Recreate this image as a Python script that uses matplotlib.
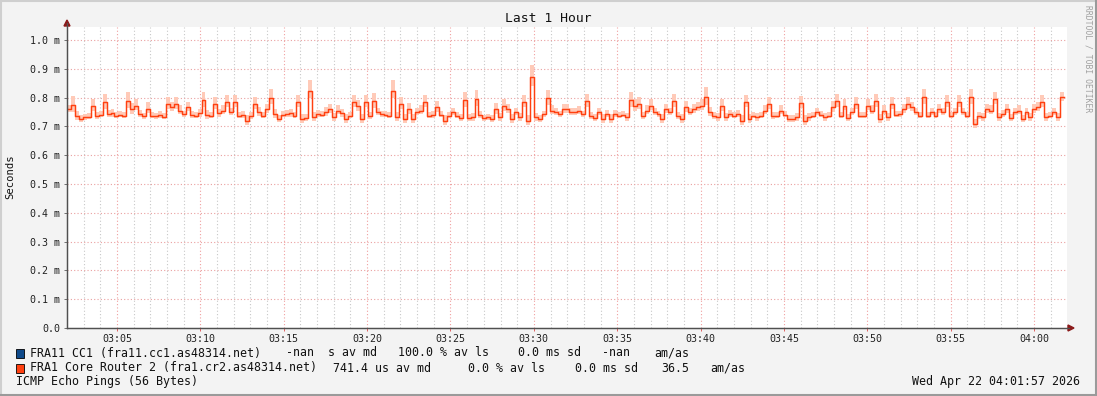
import numpy as np
import matplotlib
matplotlib.use("Agg")
import matplotlib.pyplot as plt
from matplotlib.patches import Rectangle
from matplotlib.lines import Line2D

W, H = 1097, 396

# ---------------- data ----------------
title = "Last 1 Hour"
y_label = "Seconds"
start_min = 2.0          # minutes after 03:00
step_min = 59.8 / 252    # minutes per sample

# median RTT in ms
median_ms = [
    0.760, 0.774, 0.737, 0.726, 0.731, 0.733, 0.772, 0.737, 0.740,
    0.784, 0.743, 0.745, 0.737, 0.740, 0.737, 0.788, 0.760, 0.772,
    0.743, 0.735, 0.762, 0.737, 0.735, 0.740, 0.733, 0.778, 0.766,
    0.778, 0.755, 0.743, 0.766, 0.740, 0.737, 0.745, 0.790, 0.740,
    0.737, 0.778, 0.745, 0.755, 0.784, 0.749, 0.786, 0.737, 0.740,
    0.720, 0.735, 0.778, 0.749, 0.737, 0.760, 0.800, 0.743, 0.726,
    0.740, 0.743, 0.745, 0.737, 0.784, 0.726, 0.728, 0.824, 0.731,
    0.743, 0.740, 0.750, 0.760, 0.731, 0.755, 0.745, 0.726, 0.737,
    0.784, 0.770, 0.726, 0.784, 0.737, 0.787, 0.749, 0.743, 0.740,
    0.737, 0.824, 0.731, 0.778, 0.726, 0.760, 0.726, 0.749, 0.755,
    0.784, 0.737, 0.740, 0.766, 0.740, 0.720, 0.737, 0.749, 0.737,
    0.728, 0.790, 0.729, 0.731, 0.795, 0.740, 0.729, 0.731, 0.726,
    0.760, 0.731, 0.772, 0.760, 0.726, 0.749, 0.731, 0.784, 0.720,
    0.871, 0.731, 0.726, 0.743, 0.798, 0.755, 0.749, 0.743, 0.760,
    0.760, 0.749, 0.749, 0.755, 0.743, 0.787, 0.737, 0.729, 0.751,
    0.726, 0.743, 0.726, 0.743, 0.737, 0.740, 0.731, 0.790, 0.772,
    0.778, 0.737, 0.755, 0.772, 0.749, 0.743, 0.726, 0.760, 0.749,
    0.787, 0.737, 0.726, 0.766, 0.749, 0.760, 0.766, 0.772, 0.801,
    0.749, 0.737, 0.731, 0.772, 0.731, 0.743, 0.737, 0.743, 0.720,
    0.784, 0.726, 0.737, 0.731, 0.737, 0.755, 0.778, 0.737, 0.737,
    0.755, 0.740, 0.726, 0.726, 0.731, 0.781, 0.720, 0.731, 0.737,
    0.749, 0.740, 0.731, 0.737, 0.766, 0.787, 0.737, 0.772, 0.729,
    0.749, 0.778, 0.737, 0.737, 0.772, 0.755, 0.787, 0.726, 0.755,
    0.731, 0.778, 0.740, 0.743, 0.760, 0.778, 0.766, 0.749, 0.737,
    0.801, 0.737, 0.749, 0.737, 0.760, 0.749, 0.784, 0.737, 0.749,
    0.784, 0.749, 0.737, 0.801, 0.708, 0.737, 0.731, 0.760, 0.755,
    0.795, 0.731, 0.743, 0.760, 0.729, 0.749, 0.755, 0.726, 0.749,
    0.731, 0.760, 0.766, 0.784, 0.731, 0.737, 0.749, 0.731, 0.801,
]

# smoke spread (microseconds) around the median
smoke_us = [
    12, 25, 15, 12, 10, 10, 20, 12, 10,
    25, 12, 12, 10, 10, 10, 25, 18, 18,
    12, 10, 18, 10, 10, 12, 10, 20, 15,
    20, 15, 10, 15, 12, 10, 12, 25, 15,
    10, 20, 12, 15, 20, 12, 20, 10, 12,
    15, 12, 20, 15, 10, 15, 25, 15, 12,
    10, 12, 12, 10, 20, 15, 12, 30, 15,
    12, 10, 15, 15, 12, 15, 12, 15, 10,
    20, 18, 15, 20, 12, 25, 12, 10, 10,
    10, 30, 15, 20, 15, 18, 15, 12, 15,
    20, 10, 12, 18, 10, 15, 10, 12, 10,
    12, 25, 12, 12, 25, 12, 10, 10, 12,
    18, 12, 20, 15, 15, 12, 12, 20, 15,
    35, 12, 12, 10, 25, 15, 12, 10, 15,
    15, 12, 12, 12, 10, 20, 12, 12, 12,
    15, 12, 15, 12, 10, 10, 12, 25, 20,
    20, 12, 15, 18, 12, 10, 15, 15, 12,
    20, 12, 15, 18, 12, 15, 15, 18, 30,
    15, 12, 12, 20, 12, 12, 10, 12, 15,
    20, 15, 10, 12, 10, 15, 20, 12, 10,
    15, 10, 12, 12, 12, 20, 15, 12, 10,
    12, 10, 12, 10, 18, 20, 10, 18, 12,
    12, 20, 10, 10, 18, 15, 20, 15, 15,
    12, 20, 10, 10, 15, 20, 15, 12, 10,
    25, 10, 12, 10, 15, 12, 20, 10, 12,
    20, 12, 10, 25, 15, 12, 12, 15, 15,
    20, 12, 12, 15, 12, 12, 15, 12, 12,
    12, 15, 15, 20, 12, 10, 12, 12, 15,
]

y_ticks = [0.0, 0.1, 0.2, 0.3, 0.4, 0.5, 0.6, 0.7, 0.8, 0.9, 1.0]
y_tick_labels = ["0.0", "0.1 m", "0.2 m", "0.3 m", "0.4 m", "0.5 m",
                 "0.6 m", "0.7 m", "0.8 m", "0.9 m", "1.0 m"]
x_ticks = [5, 10, 15, 20, 25, 30, 35, 40, 45, 50, 55, 60]
x_tick_labels = ["03:05", "03:10", "03:15", "03:20", "03:25", "03:30",
                 "03:35", "03:40", "03:45", "03:50", "03:55", "04:00"]

legend1_name = "FRA11 CC1 (fra11.cc1.as48314.net)"
legend1_parts = ["-nan  s av md", "100.0 % av ls", "0.0 ms sd", "-nan", "am/as"]
legend2_name = "FRA1 Core Router 2 (fra1.cr2.as48314.net)"
legend2_parts = ["741.4 us av md", "0.0 % av ls", "0.0 ms sd", "36.5", "am/as"]
footer_left = "ICMP Echo Pings (56 Bytes)"
footer_right = "Wed Apr 22 04:01:57 2026"
watermark = "RRDTOOL / TOBI OETIKER"

# ---------------- style ----------------
BG = "#f3f3f3"
LINE = "#ff4010"
SMOKE = "#ffcab8"
BLUE = "#0f4a8a"
MONO = "DejaVu Sans Mono"

def fx(x):
    return x / W

def fy(y):
    return 1 - y / H

fig = plt.figure(figsize=(W / 100, H / 100), dpi=100, facecolor=BG)

# plot area: x 67..1067, y 27..328
L, R, T, B = 67, 1067, 27, 328
ax = fig.add_axes([fx(L), fy(B), (R - L) / W, (B - T) / H])
ax.set_facecolor("white")

px_per_min = 83.37 / 5
xmin = 5 - (117 - L) / px_per_min
xmax = xmin + (R - L) / px_per_min
px_per_unit = 288.0
ymax = (B - T) / px_per_unit
ax.set_xlim(xmin, xmax)
ax.set_ylim(0, ymax)

med = np.array(median_ms)
spr = np.array(smoke_us) / 1000.0
t = start_min + step_min * np.arange(len(med))
t_edges = np.append(t, t[-1] + step_min)
med_e = np.append(med, med[-1])
spr_e = np.append(spr, spr[-1])

# grid
for m in range(3, 62):
    if m % 5 == 0:
        continue
    ax.axvline(m, color="#c8c8c8", lw=0.8, ls=(0, (1, 2)), zorder=0)
for m in x_ticks:
    ax.axvline(m, color="#f0a0a0", lw=0.8, ls=(0, (1, 2)), zorder=0)
for v in y_ticks[1:]:
    ax.axhline(v, color="#eaa0a0", lw=0.8, ls=(0, (1, 2)), zorder=0)

# smoke
ax.fill_between(t_edges, med_e - spr_e * 0.9, med_e + spr_e * 1.2, step="post",
                color=SMOKE, lw=0, zorder=1)
# median line
ax.step(t_edges, med_e, where="post", color=LINE, lw=1.05, zorder=2)

# axes styling
for s in ["top", "right"]:
    ax.spines[s].set_visible(False)
ax.spines["left"].set_color("#505050")
ax.spines["bottom"].set_color("#505050")
ax.spines["left"].set_linewidth(0.9)
ax.spines["bottom"].set_linewidth(0.9)

ax.set_yticks(y_ticks)
ax.set_yticklabels(y_tick_labels, fontfamily=MONO, fontsize=7.2, color="#222222")
ax.set_xticks(x_ticks)
ax.set_xticklabels(x_tick_labels, fontfamily=MONO, fontsize=7.2, color="#222222")
ax.tick_params(axis="y", length=2.2, width=0.7, color="#707070", pad=2.6)
ax.tick_params(axis="x", length=2.0, width=0.7, color="#e06060", pad=2.2)

# axis arrows
fig.add_artist(Line2D([fx(L), fx(L)], [fy(B), fy(23)], color="#505050", lw=0.9))
fig.add_artist(Line2D([fx(L), fx(1069)], [fy(B), fy(B)], color="#505050", lw=0.9))
fig.add_artist(plt.Polygon([[fx(64), fy(26)], [fx(70), fy(26)], [fx(67), fy(20)]],
                           closed=True, color="#8b1a1a", transform=fig.transFigure))
fig.add_artist(plt.Polygon([[fx(1068), fy(325)], [fx(1068), fy(331)], [fx(1074), fy(328)]],
                           closed=True, color="#8b1a1a", transform=fig.transFigure))

# frame (3D border)
fig.add_artist(Line2D([0, 1], [fy(1), fy(1)], color="#cfcfcf", lw=1.5))
fig.add_artist(Line2D([fx(1), fx(1)], [0, 1], color="#cfcfcf", lw=1.5))
fig.add_artist(Line2D([0, 1], [fy(395), fy(395)], color="#9a9a9a", lw=1.5))
fig.add_artist(Line2D([fx(1096), fx(1096)], [0, 1], color="#9a9a9a", lw=1.5))

# texts
fig.text(fx(548), fy(19), title, ha="center", va="center",
         fontfamily=MONO, fontsize=9.4, color="#111111")
fig.text(fx(10), fy(177), y_label, ha="center", va="center", rotation=90,
         fontfamily=MONO, fontsize=7.6, color="#111111")
fig.text(fx(1088), fy(59), watermark, ha="center", va="center", rotation=270,
         fontfamily=MONO, fontsize=5.8, color="#a0a0a0")

LS = 8.35
# legend swatches
fig.add_artist(Rectangle((fx(16), fy(357.5)), 8 / W, 9 / H, transform=fig.transFigure,
                         facecolor=BLUE, edgecolor="#000000", lw=0.6))
fig.add_artist(Rectangle((fx(16), fy(372.5)), 8 / W, 9 / H, transform=fig.transFigure,
                         facecolor=LINE, edgecolor="#000000", lw=0.6))

row1_x = [286, 398, 518, 602, 654]
row2_x = [333, 468, 575, 661, 710]
fig.text(fx(30), fy(353), legend1_name, ha="left", va="center",
         fontfamily=MONO, fontsize=LS, color="#111111")
for xx, s in zip(row1_x, legend1_parts):
    fig.text(fx(xx), fy(353), s, ha="left", va="center",
             fontfamily=MONO, fontsize=LS, color="#111111")
fig.text(fx(30), fy(368), legend2_name, ha="left", va="center",
         fontfamily=MONO, fontsize=LS, color="#111111")
for xx, s in zip(row2_x, legend2_parts):
    fig.text(fx(xx), fy(368), s, ha="left", va="center",
             fontfamily=MONO, fontsize=LS, color="#111111")
fig.text(fx(16), fy(382), footer_left, ha="left", va="center",
         fontfamily=MONO, fontsize=LS, color="#111111")
fig.text(fx(1080), fy(382), footer_right, ha="right", va="center",
         fontfamily=MONO, fontsize=LS, color="#111111")

fig.savefig("out.png", dpi=100, facecolor=BG)
